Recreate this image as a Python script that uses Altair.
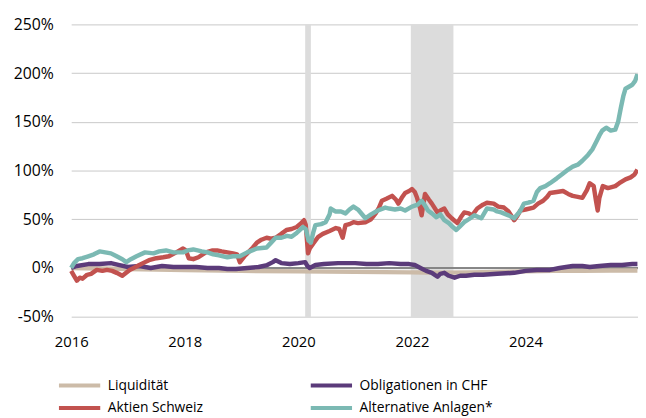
import altair as alt
import pandas as pd

series = ["Liquidität", "Obligationen in CHF", "Aktien Schweiz", "Alternative Anlagen*"]
colors = ["#ccbba8", "#5b3b7a", "#c2524f", "#7bb9b3"]
legend_order = ["Liquidität", "Aktien Schweiz", "Obligationen in CHF", "Alternative Anlagen*"]

liq_t = [2016.0, 2016.5, 2017.0, 2018.0, 2019.0, 2020.0, 2021.0, 2022.0, 2022.5, 2023.0, 2023.5, 2024.0, 2024.5, 2025.0, 2025.5, 2025.97]
liq_v = [0, -0.5, -1, -2, -3, -3.5, -4, -4.5, -5, -4.5, -4, -3.5, -3, -3, -2.5, -2.5]

obl_t = [2016.0, 2016.1, 2016.3, 2016.5, 2016.7, 2016.85, 2017.0, 2017.2, 2017.4, 2017.6, 2017.8, 2018.0, 2018.2, 2018.4, 2018.6, 2018.75, 2018.9,
         2019.1, 2019.3, 2019.45, 2019.55, 2019.6, 2019.7, 2019.85, 2020.0, 2020.12, 2020.16, 2020.2, 2020.3, 2020.45, 2020.7, 2021.0,
         2021.2, 2021.4, 2021.6, 2021.8, 2021.95, 2022.05, 2022.15, 2022.25, 2022.35, 2022.45, 2022.5, 2022.57, 2022.65, 2022.75, 2022.85,
         2022.95, 2023.1, 2023.25, 2023.5, 2023.8, 2024.0, 2024.2, 2024.43, 2024.6, 2024.83, 2025.0, 2025.13, 2025.3, 2025.5, 2025.7, 2025.88, 2025.97]
obl_v = [0, 2, 4, 4, 5, 3, 1, 2, 0, 2, 1, 1, 1, 0, 0, -1, -1,
         0, 1, 3, 6, 8, 5, 4, 5, 6, 2, 0, 3, 4, 5, 5,
         4, 4, 5, 4, 4, 3, 0, -3, -5, -9, -6, -5, -8, -10, -8,
         -8, -7, -7, -6, -5, -3, -2, -2, 0, 2, 2, 1, 2, 3, 3, 4, 4]

akt_t = [2016.0, 2016.05, 2016.1, 2016.15, 2016.2, 2016.28, 2016.35, 2016.45, 2016.55, 2016.63, 2016.72, 2016.8, 2016.9, 2017.03, 2017.1,
         2017.2, 2017.3, 2017.37, 2017.5, 2017.62, 2017.72, 2017.85, 2017.97, 2018.02, 2018.07, 2018.15, 2018.24, 2018.37, 2018.49, 2018.57,
         2018.65, 2018.75, 2018.85, 2018.92, 2018.97, 2019.05, 2019.1, 2019.2, 2019.27, 2019.35, 2019.44, 2019.52, 2019.6, 2019.7, 2019.79,
         2019.88, 2019.97, 2020.05, 2020.1, 2020.13, 2020.17, 2020.2, 2020.26, 2020.35, 2020.43, 2020.55, 2020.66, 2020.72, 2020.78, 2020.83,
         2020.9, 2020.97, 2021.05, 2021.18, 2021.28, 2021.36, 2021.42, 2021.47, 2021.55, 2021.65, 2021.72, 2021.76, 2021.82, 2021.88, 2021.95,
         2022.0, 2022.05, 2022.09, 2022.14, 2022.17, 2022.2, 2022.23, 2022.3, 2022.35, 2022.45, 2022.5, 2022.57, 2022.63, 2022.7, 2022.8,
         2022.86, 2022.92, 2023.0, 2023.06, 2023.15, 2023.25, 2023.32, 2023.44, 2023.52, 2023.62, 2023.7, 2023.8, 2023.86, 2023.91, 2024.0,
         2024.14, 2024.22, 2024.31, 2024.38, 2024.43, 2024.55, 2024.66, 2024.75, 2024.83, 2024.92, 2025.0, 2025.08, 2025.13, 2025.2, 2025.24,
         2025.27, 2025.3, 2025.36, 2025.45, 2025.58, 2025.65, 2025.76, 2025.85, 2025.92, 2025.97]
akt_v = [-3, -8, -13, -10, -11, -7, -6, -2, -3, -2, -3, -5, -8, -2, 0,
         3, 6, 8, 10, 11, 12, 16, 20, 18, 10, 9, 11, 16, 18, 18,
         17, 16, 15, 14, 6, 12, 15, 21, 26, 29, 31, 30, 31, 35, 39,
         40, 42, 46, 49, 44, 15, 20, 25, 32, 35, 38, 41, 40, 31, 44,
         45, 47, 46, 47, 50, 56, 62, 69, 71, 74, 70, 66, 72, 77, 79,
         81, 78, 72, 62, 54, 65, 76, 70, 66, 57, 59, 61, 55, 51, 46,
         52, 57, 56, 54, 61, 65, 67, 66, 63, 62, 58, 49, 54, 59, 60,
         62, 66, 69, 73, 77, 78, 79, 76, 74, 73, 72, 80, 87, 84, 69,
         59, 72, 84, 82, 84, 87, 91, 93, 96, 101]

alt_t = [2016.0, 2016.05, 2016.12, 2016.2, 2016.3, 2016.4, 2016.5, 2016.6, 2016.7, 2016.8, 2016.9, 2016.97, 2017.05, 2017.15, 2017.3,
         2017.45, 2017.55, 2017.67, 2017.8, 2017.97, 2018.05, 2018.15, 2018.3, 2018.4, 2018.5, 2018.6, 2018.75, 2018.85, 2018.97, 2019.1,
         2019.27, 2019.44, 2019.52, 2019.6, 2019.7, 2019.8, 2019.88, 2019.97, 2020.08, 2020.13, 2020.18, 2020.22, 2020.26, 2020.3, 2020.4,
         2020.48, 2020.55, 2020.57, 2020.65, 2020.75, 2020.83, 2020.9, 2020.97, 2021.05, 2021.18, 2021.28, 2021.4, 2021.53, 2021.6, 2021.7,
         2021.8, 2021.88, 2022.0, 2022.1, 2022.17, 2022.22, 2022.28, 2022.35, 2022.43, 2022.5, 2022.57, 2022.65, 2022.72, 2022.78, 2022.85,
         2022.92, 2023.0, 2023.1, 2023.22, 2023.32, 2023.44, 2023.5, 2023.57, 2023.7, 2023.8, 2023.9, 2023.97, 2024.05, 2024.14, 2024.2,
         2024.26, 2024.35, 2024.43, 2024.55, 2024.66, 2024.75, 2024.83, 2024.92, 2025.0, 2025.1, 2025.18, 2025.25, 2025.3, 2025.35, 2025.42,
         2025.5, 2025.58, 2025.63, 2025.68, 2025.72, 2025.76, 2025.82, 2025.88, 2025.93, 2025.97]
alt_v = [0, 5, 9, 10, 12, 14, 17, 16, 15, 12, 9, 6, 9, 12, 16,
         15, 17, 18, 16, 16, 18, 19, 17, 16, 14, 13, 11, 12, 12, 16,
         20, 21, 26, 31, 31, 33, 32, 36, 42, 40, 28, 26, 36, 44, 45,
         47, 55, 61, 58, 58, 56, 60, 63, 60, 51, 55, 59, 62, 61, 60,
         61, 59, 63, 65, 69, 65, 59, 56, 52, 55, 49, 46, 42, 39, 43,
         47, 50, 54, 51, 61, 60, 58, 57, 54, 51, 58, 66, 67, 69, 78,
         82, 84, 87, 92, 97, 101, 104, 106, 110, 116, 122, 130, 136, 141, 144,
         141, 142, 150, 165, 176, 184, 186, 188, 192, 199]

band_start = [2020.12, 2021.98]
band_end = [2020.22, 2022.73]

y_ticks = [-50, 0, 50, 100, 150, 200, 250]
x_ticks = [2016, 2018, 2020, 2022, 2024]

rows = []
for name, ts, vs in zip(series, [liq_t, obl_t, akt_t, alt_t], [liq_v, obl_v, akt_v, alt_v]):
    for t, v in zip(ts, vs):
        rows.append({"t": t, "v": v, "s": name})
df = pd.DataFrame(rows)
bands = pd.DataFrame({"a": band_start, "b": band_end})

color_map = dict(zip(series, colors))
legend_colors = [color_map[s] for s in legend_order]

FONT = "Open Sans"
xscale = alt.Scale(domain=[2016, 2025.98], nice=False, zero=False)
yscale = alt.Scale(domain=[-50, 250], nice=False)

xaxis = alt.Axis(values=x_ticks, format="d", grid=False, ticks=False, domain=False, labelFlush=False,
                 labelFontSize=15, labelColor="#000000", labelPadding=18, title=None, labelFont=FONT)
yaxis = alt.Axis(values=y_ticks, labelExpr="datum.value + '%'", grid=True, gridColor="#c8c8c8",
                 gridWidth=1, ticks=False, domain=False, labelFontSize=16, labelColor="#000000",
                 labelPadding=18, title=None, labelFont=FONT)

band_layer = alt.Chart(bands).mark_rect(color="#dcdcdc").encode(
    x=alt.X("a:Q", scale=xscale, axis=xaxis),
    x2="b:Q",
    y=alt.datum(-51, scale=yscale),
    y2=alt.datum(250),
)

zero_layer = alt.Chart(bands).mark_rule(color="#808080", strokeWidth=1.5).encode(
    y=alt.datum(0, scale=yscale, axis=yaxis)
)

lines = alt.Chart(df).mark_line(strokeWidth=4.5, strokeJoin="round").encode(
    x=alt.X("t:Q", scale=xscale, axis=xaxis),
    y=alt.Y("v:Q", scale=yscale, axis=yaxis),
    color=alt.Color("s:N", scale=alt.Scale(domain=legend_order, range=legend_colors),
                    legend=alt.Legend(orient="none", legendX=1, legendY=358, columns=2,
                                      symbolType="M-3.8,0H3.8", symbolStrokeWidth=4, symbolSize=121,
                                      labelFontSize=14, labelFont=FONT, labelColor="#000000",
                                      labelOffset=21, rowPadding=6, columnPadding=100, title=None)),
)

chart = alt.layer(band_layer, zero_layer, lines).properties(
    width=574, height=296, autosize="none",
    padding={"left": 64, "top": 14, "right": 0, "bottom": 100},
).configure_view(stroke=None)

chart.save("out.html", embed_options={"renderer": "svg", "actions": False})
